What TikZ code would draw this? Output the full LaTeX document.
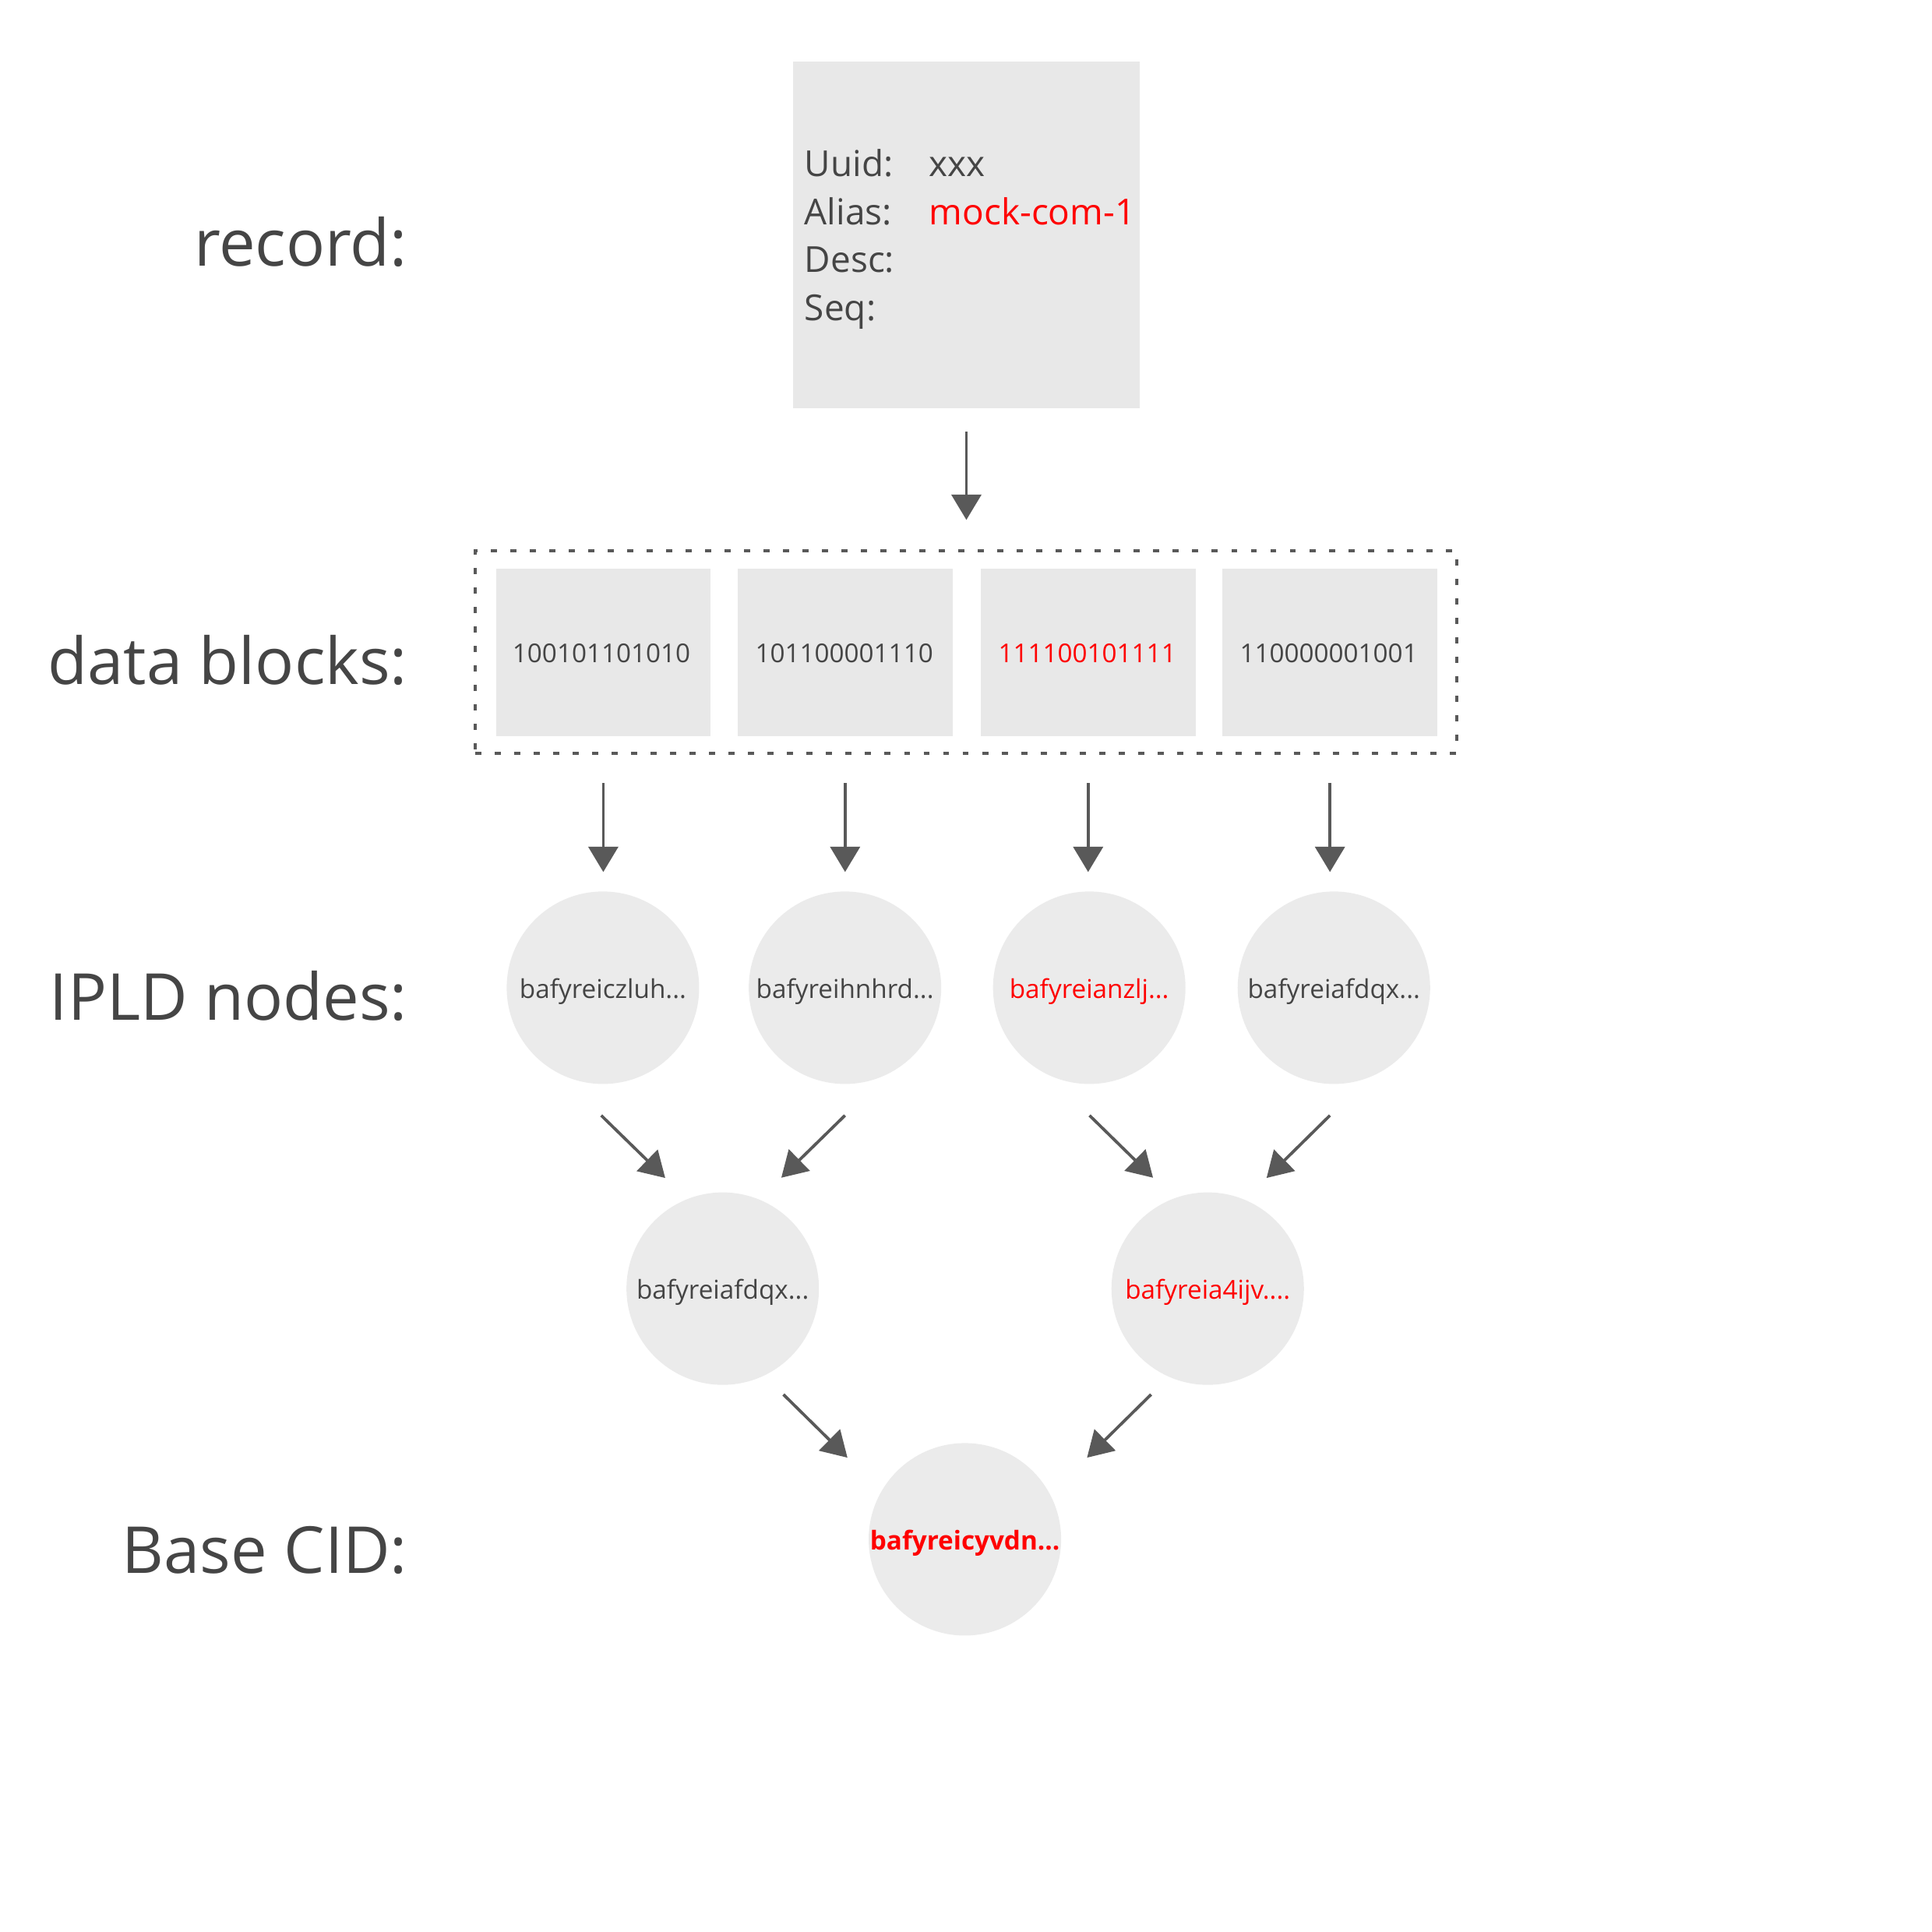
\documentclass[tikz,border=0pt]{standalone}
\usepackage{fontspec}
\setmainfont{Open Sans}
\usetikzlibrary{arrows.meta,calc}
\definecolor{txt}{HTML}{454545}
\definecolor{arr}{HTML}{595959}
\definecolor{boxfill}{HTML}{E8E8E8}
\definecolor{circfill}{HTML}{EBEBEB}
\definecolor{hl}{HTML}{FF0000}
\begin{document}
\begin{tikzpicture}[x=1pt,y=-1pt,
  lbl/.style={anchor=base east, text=txt, font=\fontsize{52.5}{60}\selectfont, inner sep=0pt},
  fld/.style={anchor=base west, text=txt, font=\fontsize{29}{35}\selectfont, inner sep=0pt},
  blk/.style={fill=boxfill, minimum width=174pt, minimum height=135.7pt, inner sep=0pt,
    font=\fontsize{21}{25}\selectfont, text=txt, text height=16.8pt, text depth=0pt},
  cnode/.style={circle, fill=circfill, minimum size=156pt, inner sep=0pt,
    font=\fontsize{21}{25}\selectfont, text=txt, text height=16.8pt, text depth=0pt},
  conn/.style={draw=arr, line width=2.4pt, -{Triangle[length=20.5pt,width=24pt]}},
]
\useasboundingbox (0,0) rectangle (1566,1566);

% labels
\node[lbl] (lrec) at (330.5,215.5) {record:};
\node[lbl] (ldata) at (330.5,554.5) {data blocks:};
\node[lbl] (lipld) at (330.5,827) {IPLD nodes:};
\node[lbl] (lbase) at (330.5,1275.5) {Base CID:};

% record
\node[fill=boxfill, minimum width=281pt, minimum height=281pt, inner sep=0pt] (rec) at (783.3,190.3) {};
\node[fld] (fuuid) at (652,143) {Uuid:};
\node[fld] (vuuid) at (753,143) {xxx};
\node[fld] (falias) at (652,182) {Alias:};
\node[fld, text=hl] (valias) at (753,182) {mock-com-1};
\node[fld] (fdesc) at (652,221) {Desc:};
\node[fld] (fseq) at (652,260) {Seq:};

% data blocks
\node[draw=arr, line width=2.6pt, dash pattern=on 5pt off 10.8pt, minimum width=795.4pt, minimum height=164.6pt, inner sep=0pt] (frame) at (782.9,528.5) {};
\node[blk] (b1) at (489,528.8) {\kern-3pt100101101010};
\node[blk] (b2) at (685,528.8) {\kern-1.5pt101100001110};
\node[blk, text=hl] (b3) at (882,528.8) {\kern-1.5pt111100101111};
\node[blk] (b4) at (1078,528.8) {\kern-2pt110000001001};

% IPLD nodes
\node[cnode] (c1) at (488.7,800.6) {bafyreiczluh...};
\node[cnode] (c2) at (684.9,800.6) {bafyreihnhrd...};
\node[cnode, text=hl] (c3) at (882.9,800.6) {bafyreianzlj...};
\node[cnode] (c4) at (1081.2,800.6) {bafyreiafdqx...};
\node[cnode] (m1) at (585.8,1044.5) {bafyreiafdqx...};
\node[cnode, text=hl] (m2) at (978.9,1044.5) {bafyreia4ijv....};
\node[cnode, text=hl, font=\fontsize{21}{25}\selectfont\bfseries] (base) at (782.1,1247.7) {bafyreicyvdn...};

% connectors
\draw[conn] ($(rec.south)+(0,19)$) -- ($(rec.south |- frame.north)+(0,-23.5)$);
\foreach \b/\c in {b1/c1,b2/c2,b3/c3,b4/c4}{
  \draw[conn] ($(\b.south)+(0,38)$) -- ($(\b.south |- \c.north)+(0,-15.6)$);
}
\draw[conn] ($(c1.south)+(-1.4,25.3)$) -- ($(m1.north)+(-46.6,-11.5)$);
\draw[conn] ($(c2.south)+(0,25.3)$) -- ($(m1.north)+(47.5,-11.7)$);
\draw[conn] ($(c3.south)+(0.2,25.3)$) -- ($(m2.north)+(-44.3,-11.7)$);
\draw[conn] ($(c4.south)+(-3.2,25.3)$) -- ($(m2.north)+(47.7,-11.5)$);
\draw[conn] ($(m1.south)+(49.2,7.6)$) -- ($(base.north)+(-95.2,12)$);
\draw[conn] ($(m2.south)+(-45.9,7.6)$) -- ($(base.north)+(99,12)$);
\end{tikzpicture}
\end{document}
